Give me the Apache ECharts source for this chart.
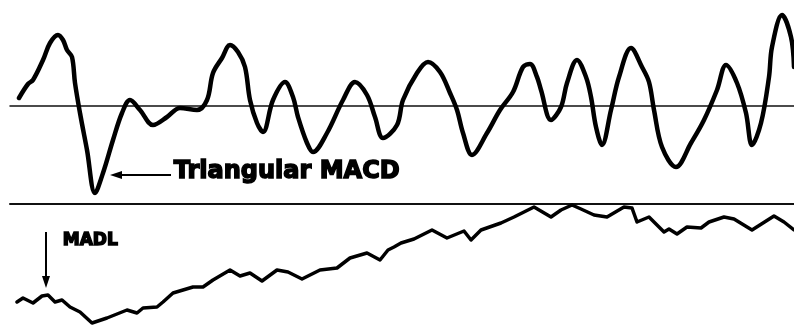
<!DOCTYPE html>
<html>
<head>
<meta charset="utf-8">
<script src="https://cdn.jsdelivr.net/npm/echarts@6/dist/echarts.min.js"></script>
<style>
  html, body { margin: 0; padding: 0; background: #fff; }
  #chart { width: 794px; height: 327px; }
</style>
</head>
<body>
<div id="chart"></div>
<script>
  // bar index (time) and Triangular MACD readings
  const macdDays = [19, 28, 33, 43, 50, 58, 63, 67, 72, 75, 80, 87, 95, 103, 113, 122, 130, 140, 153, 167, 180, 197, 207, 213, 222, 230, 238, 245, 250, 257, 263, 273, 285, 293, 298, 307, 313, 327, 343, 355, 367, 375, 383, 397, 403, 417, 428, 440, 450, 457, 463, 472, 487, 500, 513, 523, 530, 537, 541, 551, 561, 567, 577, 586, 591, 596, 602, 611, 619, 631, 642, 649, 654, 662, 676, 691, 704, 717, 726, 737, 746, 752, 761, 769, 772, 782, 791, 794]
  const macdValues = [0.8, 2.2, 2.6, 4.6, 6.3, 7.1, 6.6, 5.6, 4.9, 2.3, -0.7, -4.4, -8.7, -6.7, -3.4, -0.7, 0.6, -0.4, -1.9, -1.1, -0.2, -0.4, 0.6, 3.3, 4.8, 6.1, 5.4, 3.9, 0.6, -1.7, -2.6, 0.6, 2.4, 0.9, -1.1, -3.7, -4.6, -2.7, 0.6, 2.4, 1.1, -1.1, -3.2, -1.9, 0.6, 3.3, 4.4, 3.4, 1.3, -0.4, -2.7, -4.9, -2.7, -0.4, 1.4, 3.9, 4.2, 2.9, 1.6, -1.4, -0.1, 2.3, 4.6, 2.9, 0.9, -2.1, -3.9, -0.4, 2.9, 5.8, 3.9, 2.4, -0.4, -4.1, -6.1, -3.7, -1.4, 1.6, 4.1, 2.3, -0.7, -3.9, -1.7, 2.9, 5.9, 9.1, 6.9, 3.9]

  // bar index (time) and MADL readings
  const madlDays = [17, 23, 33, 42, 48, 55, 62, 70, 80, 92, 107, 127, 137, 143, 157, 163, 173, 183, 193, 203, 213, 230, 240, 250, 262, 277, 288, 302, 320, 337, 350, 367, 380, 388, 394, 401, 414, 432, 447, 464, 471, 481, 501, 514, 522, 534, 551, 561, 572, 581, 594, 607, 624, 632, 637, 649, 664, 669, 677, 687, 701, 709, 724, 734, 752, 774, 784, 794]
  const madlValues = [6.25, 7.25, 6, 7.75, 8, 6.25, 6.75, 5, 3.75, 1, 2.25, 4.25, 3.5, 4.75, 5, 6.25, 8.5, 9.25, 10, 10, 11.75, 14.25, 12.75, 13.5, 11.5, 14.25, 13.75, 12, 14.25, 14.75, 17.25, 18.5, 16.75, 19.25, 20, 21, 22, 24.25, 22.25, 24, 21.75, 24.25, 26, 27.5, 28.5, 30, 27.5, 29.25, 30.5, 29.5, 28, 27.5, 30, 29.75, 26.25, 27.5, 23.75, 24.5, 23.25, 25, 24.75, 26.25, 27.5, 27, 24.25, 27.75, 26.25, 24.25]

  const macdData = macdDays.map((d, i) => [d, macdValues[i]])
  const madlData = madlDays.map((d, i) => [d, madlValues[i]])

  const labelFont = '"DejaVu Sans", "Liberation Sans", sans-serif'

  const myChart = echarts.init(document.getElementById('chart'), null, { renderer: 'canvas' })
  myChart.setOption({
    animation: false,
    backgroundColor: '#fff',
    grid: [
      { left: 10, right: 0, top: 0, height: 206 },
      { left: 10, right: 0, top: 204, height: 123 }
    ],
    xAxis: [{
      gridIndex: 0,
      type: 'value',
      min: 10,
      max: 794,
      axisLine: { show: true, onZero: true, lineStyle: { color: '#111', width: 1.5 } },
      axisTick: { show: false },
      axisLabel: { show: false },
      splitLine: { show: false }
    }, {
      gridIndex: 1,
      type: 'value',
      position: 'top',
      min: 10,
      max: 794,
      axisLine: { show: true, onZero: false, lineStyle: { color: '#111', width: 2 } },
      axisTick: { show: false },
      axisLabel: { show: false },
      splitLine: { show: false }
    }],
    yAxis: [{
      gridIndex: 0,
      type: 'value',
      min: -10,
      max: 10.6,
      show: false
    }, {
      gridIndex: 1,
      type: 'value',
      min: 0,
      max: 30.75,
      show: false
    }],
    series: [{
      name: 'Triangular MACD',
      type: 'line',
      xAxisIndex: 0,
      yAxisIndex: 0,
      data: macdData,
      smooth: 0.35,
      showSymbol: false,
      clip: false,
      lineStyle: { color: '#000', width: 4.5, cap: 'round', join: 'round' }
    }, {
      name: 'MADL',
      type: 'line',
      xAxisIndex: 1,
      yAxisIndex: 1,
      data: madlData,
      showSymbol: false,
      clip: false,
      lineStyle: { color: '#000', width: 3.5, cap: 'round', join: 'round' }
    }],
    graphic: [
      // arrow to the MACD trough
      { type: 'line', shape: { x1: 171, y1: 175, x2: 116, y2: 175 }, style: { stroke: '#000', lineWidth: 2 } },
      { type: 'polygon', shape: { points: [[110, 175], [122, 171], [122, 179]] }, style: { fill: '#000' } },
      {
        type: 'text', left: 173, top: 159,
        style: { text: 'Triangular MACD', font: 'bold 24px ' + labelFont, fill: '#000', stroke: '#000', lineWidth: 1.5 }
      },
      // arrow down to the MADL start
      { type: 'line', shape: { x1: 46, y1: 232, x2: 46, y2: 280 }, style: { stroke: '#000', lineWidth: 2 } },
      { type: 'polygon', shape: { points: [[46, 288], [42, 276], [50, 276]] }, style: { fill: '#000' } },
      {
        type: 'text', left: 62, top: 231,
        style: { text: 'MADL', font: 'bold 17px ' + labelFont, fill: '#000', stroke: '#000', lineWidth: 1.5 }
      }
    ]
  })
</script>
</body>
</html>
